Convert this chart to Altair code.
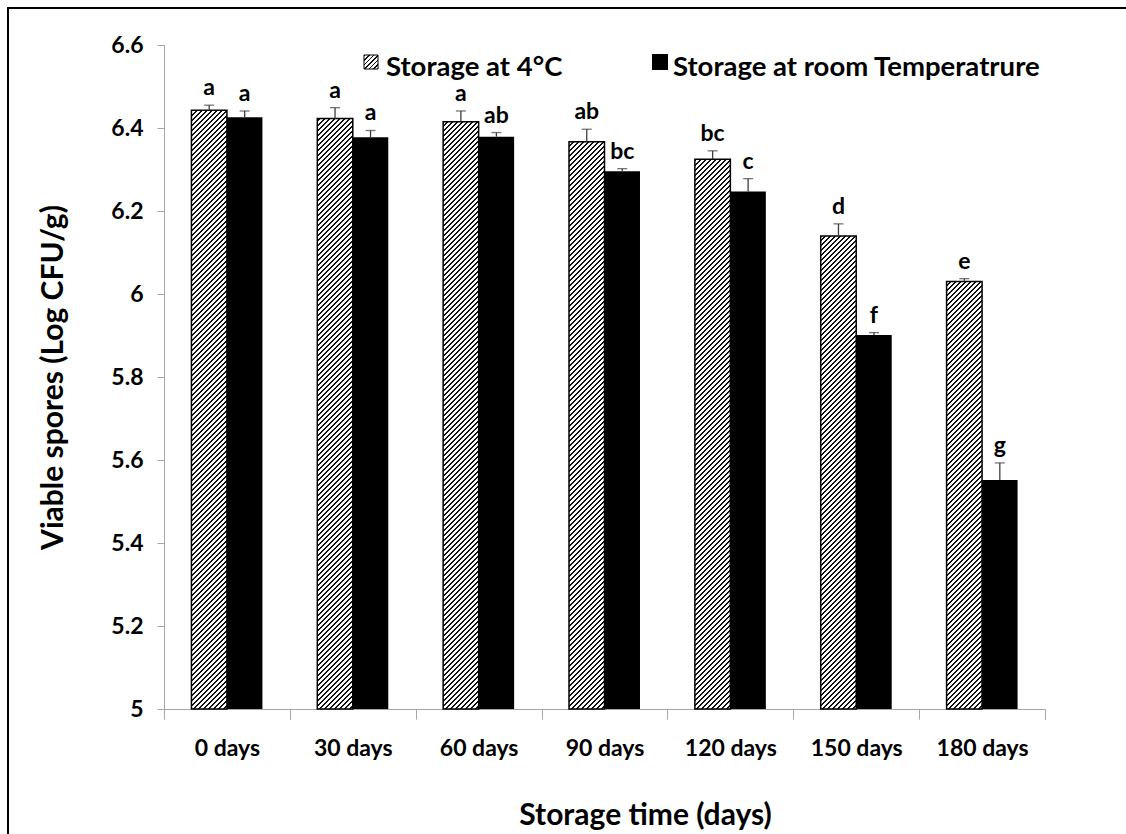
import math
import altair as alt
import pandas as pd

# ---------------- data ----------------
days = ["0 days", "30 days", "60 days", "90 days", "120 days", "150 days", "180 days"]
series = ["Storage at 4°C", "Storage at room Temperatrure"]
cold_mean = [6.443, 6.423, 6.415, 6.367, 6.325, 6.140, 6.030]
cold_err = [0.012, 0.026, 0.026, 0.030, 0.020, 0.029, 0.007]
room_mean = [6.426, 6.378, 6.379, 6.296, 6.247, 5.901, 5.552]
room_err = [0.015, 0.016, 0.010, 0.006, 0.031, 0.006, 0.041]
cold_letters = ["a", "a", "a", "ab", "bc", "d", "e"]
room_letters = ["a", "a", "ab", "bc", "c", "f", "g"]
y_ticks = [5.0, 5.2, 5.4, 5.6, 5.8, 6.0, 6.2, 6.4, 6.6]
y_title = "Viable spores (Log CFU/g)"
x_title = "Storage time (days)"

# ---------------- layout / style ----------------
W, H = 881, 664
PAD = {"left": 164, "top": 45, "right": 81, "bottom": 125}
Y_MIN, Y_MAX = 5.0, 6.6
OFF_PAD = 0.773
FONT = "Lato"
AXIS_GREY = "#a6a6a6"
WHISKER = "#3c3c3c"
HATCH_PERIOD = 5.0      # px, measured along x+y
HATCH_DARK = 0.40       # share of each period that is dark
HATCH_SEG = 112         # px, height of a hatch tile

rows = []
for i, d in enumerate(days):
    rows.append({"day": d, "series": series[0], "mean": cold_mean[i],
                 "top": cold_mean[i] + cold_err[i], "letter": cold_letters[i]})
    rows.append({"day": d, "series": series[1], "mean": room_mean[i],
                 "top": room_mean[i] + room_err[i], "letter": room_letters[i]})
df = pd.DataFrame(rows)


def hatch(w, h, phase=0.0, period=HATCH_PERIOD, dark=HATCH_DARK):
    """'////' stripes from a linear gradient in bbox units; t = (x + y) / (w + h)."""
    r = w / h
    s = (1 + r) / (1 + r * r)
    L = w + h
    ph = phase % period
    intervals = []
    k = -1
    while k * period - ph <= L:
        a = max(0.0, k * period - ph)
        b = min(L, k * period - ph + dark * period)
        if b > a:
            intervals.append((a, b))
        k += 1
    stops = [{"offset": 0, "color": "#ffffff"}]
    for a, b in intervals:
        ta, tb = round(a / L, 6), round(b / L, 6)
        stops += [{"offset": ta, "color": "#ffffff"}, {"offset": ta, "color": "#111111"},
                  {"offset": tb, "color": "#111111"}, {"offset": tb, "color": "#ffffff"}]
    stops.append({"offset": 1, "color": "#ffffff"})
    return {"gradient": "linear", "x1": 0, "y1": 0, "x2": round(s * r, 6), "y2": round(s, 6),
            "stops": stops}


def px_to_val(y):
    return Y_MAX - y * (Y_MAX - Y_MIN) / H


def val_to_px(v):
    return (Y_MAX - v) / (Y_MAX - Y_MIN) * H


x_axis = alt.Axis(
    title=x_title, labelAngle=0, labelFont=FONT, labelFontWeight="bold", labelFontSize=23,
    labelColor="black", labelPadding=18, tickSize=10, tickColor=AXIS_GREY, tickWidth=1,
    domainColor=AXIS_GREY, domainWidth=1, tickBand="extent", grid=False,
    titleFont=FONT, titleFontSize=30, titleFontWeight="bold", titleColor="black",
    titleX=481, titleY=115, titleBaseline="alphabetic", titleAlign="center",
)
y_axis = alt.Axis(
    title=y_title, values=y_ticks, format=".1~f", labelFont=FONT, labelFontWeight="bold",
    labelFontSize=23, labelColor="black", labelPadding=14, tickSize=7, tickColor=AXIS_GREY,
    domainColor=AXIS_GREY, grid=False,
    titleFont=FONT, titleFontSize=30, titleFontWeight="bold", titleColor="black",
    titleX=-102, titleY=H / 2, titleBaseline="alphabetic", titleAlign="center",
)

x_scale = alt.Scale(domain=days, paddingInner=0, paddingOuter=0)
xo_scale = alt.Scale(domain=series, paddingInner=0, paddingOuter=OFF_PAD)
y_scale = alt.Scale(domain=[Y_MIN, Y_MAX], nice=False, zero=False)


def X():
    return alt.X("day:N", scale=x_scale, axis=x_axis, sort=days)


def XO():
    return alt.XOffset("series:N", scale=xo_scale, sort=series)


def Y(field):
    return alt.Y(f"{field}:Q", scale=y_scale, axis=y_axis)


step = W / len(days)
bar_w = step / (2 + 2 * OFF_PAD)

layers = []

# hatched bars: each bar is tiled vertically, every tile has its own stripe gradient
for i, d in enumerate(days):
    y_top = val_to_px(cold_mean[i])
    cuts = [float(H)]
    while cuts[-1] - HATCH_SEG > y_top + 30:
        cuts.append(cuts[-1] - HATCH_SEG)
    cuts.append(y_top)
    for j in range(len(cuts) - 1):
        y_lo_px, y_hi_px = cuts[j], cuts[j + 1]
        seg = pd.DataFrame([{"day": d, "series": series[0],
                             "hi": px_to_val(y_hi_px), "lo": px_to_val(y_lo_px)}])
        layers.append(
            alt.Chart(seg).mark_bar(fill=hatch(bar_w, y_lo_px - y_hi_px, phase=y_hi_px),
                                    strokeWidth=0)
            .encode(x=X(), xOffset=XO(), y=Y("hi"), y2=alt.Y2("lo:Q"))
        )

# outline of the hatched bars
layers.append(
    alt.Chart(df[df.series == series[0]]).mark_bar(fillOpacity=0, stroke="black", strokeWidth=1.5)
    .encode(x=X(), xOffset=XO(), y=Y("mean"), y2=alt.Y2(datum=Y_MIN))
)

# black bars
layers.append(
    alt.Chart(df[df.series == series[1]]).mark_bar(color="black")
    .encode(x=X(), xOffset=XO(), y=Y("mean"), y2=alt.Y2(datum=Y_MIN))
)

# error whiskers (upper only) and caps
layers.append(
    alt.Chart(df).mark_rule(color=WHISKER, strokeWidth=1.3)
    .encode(x=X(), xOffset=XO(), y=Y("mean"), y2=alt.Y2("top:Q"))
)
layers.append(
    alt.Chart(df).mark_tick(color=WHISKER, thickness=1.3, size=10, orient="horizontal")
    .encode(x=X(), xOffset=XO(), y=Y("top"))
)

# significance letters
layers.append(
    alt.Chart(df).mark_text(font=FONT, fontWeight="bold", fontSize=23, color="black",
                            baseline="alphabetic", dy=-10)
    .encode(x=X(), xOffset=XO(), y=Y("top"), text="letter:N")
)

# custom legend
one = alt.Data(values=[{"k": 1}])
layers.append(
    alt.Chart(one).mark_rect(fill=hatch(14, 14, period=4.5), stroke="black", strokeWidth=1)
    .encode(x=alt.value(200), x2=alt.value(214), y=alt.value(10), y2=alt.value(24))
)
layers.append(
    alt.Chart(one).mark_text(font=FONT, fontWeight="bold", fontSize=27.5, align="left",
                             baseline="alphabetic", color="black", text=series[0])
    .encode(x=alt.value(222), y=alt.value(31))
)
layers.append(
    alt.Chart(one).mark_rect(fill="black")
    .encode(x=alt.value(488), x2=alt.value(504), y=alt.value(9), y2=alt.value(25))
)
layers.append(
    alt.Chart(one).mark_text(font=FONT, fontWeight="bold", fontSize=27.5, align="left",
                             baseline="alphabetic", color="black", text=series[1])
    .encode(x=alt.value(509), y=alt.value(31))
)

# outer frame of the figure
layers.append(
    alt.Chart(one).mark_rect(filled=False, stroke="black", strokeWidth=2)
    .encode(x=alt.value(-156), x2=alt.value(W + 120), y=alt.value(-37), y2=alt.value(H + 160))
)

chart = (
    alt.layer(*layers)
    .properties(width=W, height=H, autosize=alt.AutoSizeParams(type="none"), padding=PAD,
                background="white")
    .configure_view(stroke=None)
)

chart.save("out.html", embed_options={"renderer": "svg", "actions": False})
